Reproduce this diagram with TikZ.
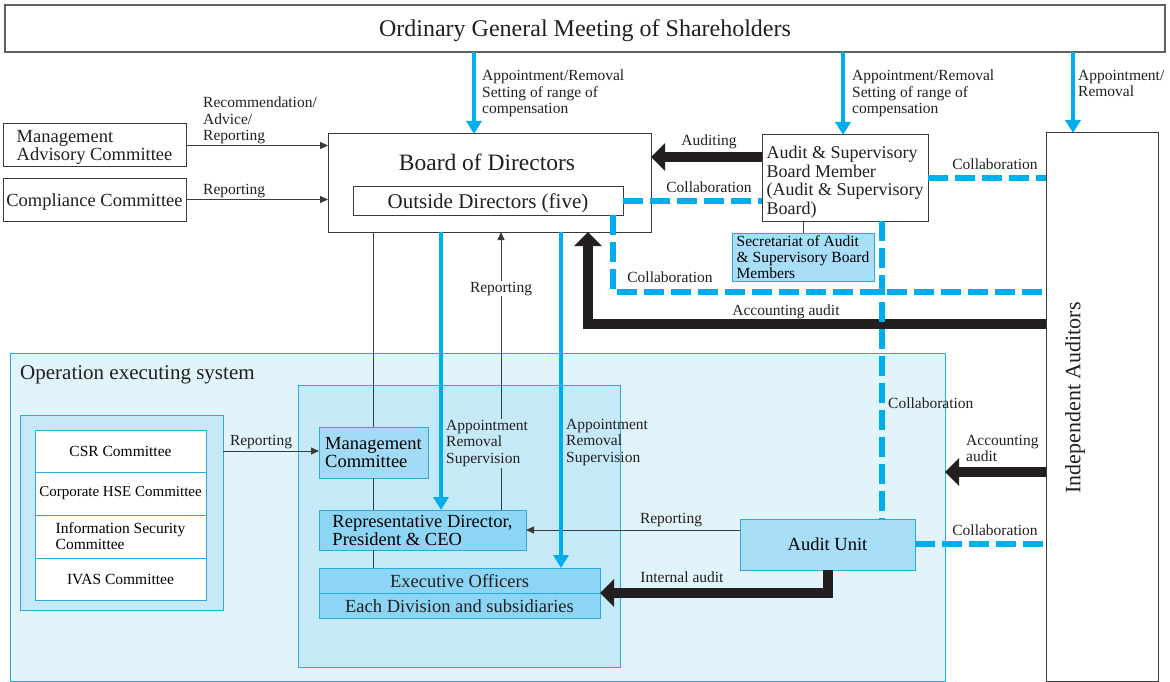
\documentclass[tikz,border=0pt]{standalone}
\usepackage{fontspec}
\setmainfont{Liberation Serif}
\usetikzlibrary{arrows.meta}
\definecolor{cy}{HTML}{00AEEF}
\definecolor{blk}{HTML}{231F20}
\definecolor{bord}{HTML}{3A3A3A}
\definecolor{opbg}{HTML}{E1F3FB}
\definecolor{inbg}{HTML}{C6E9F8}
\definecolor{mcbg}{HTML}{A2DBF5}
\definecolor{rdbg}{HTML}{8DD5F4}
\definecolor{aubg}{HTML}{A8DEF7}
\definecolor{lbord}{HTML}{29ABE2}
\newcommand{\fsz}[2]{\fontsize{#1}{#2}\selectfont}
\tikzset{
 box/.style={draw=bord, line width=1pt, fill=white, anchor=north west, inner sep=0pt, outer sep=0pt, align=center},
 lbox/.style={draw=lbord, line width=0.9pt, anchor=north west, inner sep=0pt, outer sep=0pt, align=center},
 txt/.style={inner sep=0pt, text=blk},
 lbl/.style={font=\fsz{15.5}{16.5}, align=left, inner sep=0pt, text=blk},
 thinarrow/.style={draw=bord, line width=0.8pt, -{Triangle[width=7pt,length=8pt]}},
 thinline/.style={draw=bord, line width=0.8pt},
 bluearrow/.style={draw=cy, line width=4.5pt, -{Triangle[width=15pt,length=13pt]}},
 blkarrow/.style={draw=blk, line width=10.5pt, line join=miter, -{Triangle[width=27pt,length=14pt]}},
 dashline/.style={draw=cy, line width=6.5pt, line join=miter, dash pattern=on 20pt off 7pt},
}
\begin{document}
\begin{tikzpicture}[x=1pt,y=-1pt]
\useasboundingbox (0,0) rectangle (1170,682);
% backgrounds
\node[lbox, fill=opbg, minimum width=935pt, minimum height=328pt] (op) at (10,353) {};
\node[lbox, fill=inbg, minimum width=322pt, minimum height=282pt] (inner) at (298,385) {};
\node[lbox, fill=inbg, minimum width=203pt, minimum height=195pt] (lg) at (20,415) {};
\node[lbl, anchor=base west, font=\fsz{21}{22}] (optitle) at (20,379) {Operation executing system};
% top
\node[box, draw=bord!80, line width=1.4pt, minimum width=1160pt, minimum height=47pt] (top) at (5,5) {};
\node[txt, font=\fsz{24}{26}] (topt) at (585,31) {Ordinary General Meeting of Shareholders};
% left committees
\node[box, minimum width=183pt, minimum height=43pt] (mac) at (3,124) {};
\node[txt, font=\fsz{18.5}{18}, align=left] (mact) at ([yshift=-2pt]mac.center) {Management\\Advisory Committee};
\node[box, minimum width=183pt, minimum height=43pt] (cc) at (3,178) {};
\node[txt, font=\fsz{18.5}{18}] (cct) at ([yshift=-3pt]cc.center) {Compliance Committee};
% board
\node[box, minimum width=323pt, minimum height=98pt] (bod) at (328,134) {};
\node[txt, font=\fsz{23.5}{25}] (bodt) at (487,162) {Board of Directors};
\node[box, minimum width=270pt, minimum height=29pt] (od) at (353,186) {};
\node[txt, font=\fsz{21}{22}] (odt) at ([yshift=-3pt]od.center) {Outside Directors (five)};
% audit board
\node[box, minimum width=166pt, minimum height=86pt] (asb) at (762,135) {};
\node[txt, font=\fsz{18}{18.6}, align=left] (asbt) at ([yshift=-4pt]asb.center) {Audit \& Supervisory\\Board Member\\(Audit \& Supervisory\\Board)};
\node[lbox, fill=aubg, minimum width=142pt, minimum height=48pt, font=\fsz{15.5}{16}, align=left] (sec) at (732,233) {Secretariat of Audit\\\& Supervisory Board\\Members};
% independent auditors
\node[box, minimum width=112pt, minimum height=548pt] (ia) at (1046,133) {};
\node[txt, rotate=90, font=\fsz{22}{24}] (iat) at (1075,398) {Independent Auditors};
% committees group
\node[lbox, fill=white, minimum width=171pt, minimum height=42pt, font=\fsz{15.5}{16}] (csr) at (35,430) {CSR Committee};
\node[lbox, fill=white, minimum width=171pt, minimum height=43pt, font=\fsz{15}{16}] (hse) at (35,472) {Corporate HSE Committee};
\node[lbox, fill=white, minimum width=171pt, minimum height=43pt, font=\fsz{15.5}{16}, align=left] (isc) at (35,515) {Information Security\\Committee};
\node[lbox, fill=white, minimum width=171pt, minimum height=42pt, font=\fsz{15.5}{16}] (ivas) at (35,558) {IVAS Committee};
% executing boxes
\node[lbox, fill=mcbg, minimum width=109pt, minimum height=51pt, font=\fsz{18.5}{18}, align=left] (mc) at (319,427) {Management\\Committee};
\node[lbox, fill=rdbg, minimum width=207pt, minimum height=40pt, font=\fsz{18.5}{18}, align=left] (rd) at (319,510) {Representative Director,\\President \& CEO};
\node[lbox, fill=rdbg, minimum width=281pt, minimum height=25pt] (eo) at (319,568) {};
\node[txt, font=\fsz{18.5}{18}] (eot) at ([yshift=-1pt]eo.center) {Executive Officers};
\node[lbox, fill=rdbg, minimum width=281pt, minimum height=25pt] (ed) at (319,593) {};
\node[txt, font=\fsz{18.5}{18}] (edt) at ([yshift=-1pt]ed.center) {Each Division and subsidiaries};
\node[lbox, fill=aubg, minimum width=175pt, minimum height=51pt, font=\fsz{18.5}{18}] (au) at (740,519) {Audit Unit};
% helper coordinates
\coordinate (x474) at (474,0);
\coordinate (x843) at (843,0);
\coordinate (x1073) at (1073,0);
\coordinate (x373) at (373,0);
\coordinate (x441) at (441,0);
\coordinate (x501) at (501,0);
\coordinate (x561) at (561,0);
\coordinate (x588) at (588,0);
\coordinate (x613) at (613,0);
\coordinate (x803) at (803,0);
\coordinate (x828) at (828,0);
\coordinate (x882) at (882,0);
\coordinate (y157) at (0,157);
\coordinate (y201) at (0,201);
\coordinate (y178) at (0,178);
\coordinate (y292) at (0,292);
\coordinate (y324) at (0,324);
\coordinate (y472) at (0,472);
\coordinate (y530) at (0,530);
\coordinate (y544) at (0,544);
\coordinate (y451) at (0,451);
\coordinate (c1) at (613,292);
\coordinate (c2) at (588,324);
\coordinate (c3) at (828,593);
% thin connectors
\draw[thinarrow] (mac.east) -- (bod.west |- mac.east);
\draw[thinarrow] (cc.east) -- (bod.west |- cc.east);
\draw[thinline] (bod.south -| x373) -- (mc.north -| x373);
\draw[thinline] (mc.south -| x373) -- (rd.north -| x373);
\draw[thinline] (rd.south -| x373) -- (eo.north -| x373);
\draw[thinarrow] (rd.north -| x501) -- (bod.south -| x501);
\draw[thinline] (asb.south -| x803) -- (sec.north -| x803);
\draw[thinarrow] (lg.east |- y451) -- (mc.west |- y451);
\draw[thinarrow] (au.west |- y530) -- (rd.east |- y530);
% blue arrows
\draw[bluearrow] (top.south -| x474) -- (bod.north -| x474);
\draw[bluearrow] (top.south -| x843) -- (asb.north -| x843);
\draw[bluearrow] (top.south -| x1073) -- (ia.north -| x1073);
\draw[bluearrow] (bod.south -| x441) -- (rd.north -| x441);
\draw[bluearrow] (bod.south -| x561) -- (eo.north -| x561);
% black arrows
\draw[blkarrow] (asb.west |- y157) -- (bod.east |- y157);
\draw[blkarrow] (ia.west |- y324) -- (c2) -- (bod.south -| x588);
\draw[blkarrow] (ia.west |- y472) -- (op.east |- y472);
\draw[blkarrow] (au.south -| x828) -- (c3) -- (ed.east |- c3);
% dashed
\draw[dashline] (od.east |- y201) -- (asb.west |- y201);
\draw[dashline] (od.south -| x613) -- (c1) -- (ia.west |- y292);
\draw[dashline] (asb.east |- y178) -- (ia.west |- y178);
\draw[dashline] (asb.south -| x882) -- (au.north -| x882);
\draw[dashline] (au.east |- y544) -- (ia.west |- y544);
% labels
\node[lbl, anchor=north west] (l1) at (482,70) {Appointment/Removal\\Setting of range of\\compensation};
\node[lbl, anchor=north west] (l2) at (852,70) {Appointment/Removal\\Setting of range of\\compensation};
\node[lbl, anchor=north west] (l3) at (1078,70) {Appointment/\\Removal};
\node[lbl, anchor=north west] (l4) at (203,97) {Recommendation/\\Advice/\\Reporting};
\node[lbl, anchor=base west] (l5) at (203,194) {Reporting};
\node[lbl, anchor=base] (l6) at (709,146) {Auditing};
\node[lbl, anchor=base] (l7) at (709,192) {Collaboration};
\node[lbl, anchor=base] (l8) at (995,169) {Collaboration};
\node[lbl, anchor=base] (l9) at (670,282) {Collaboration};
\node[lbl, anchor=base] (l10) at (786,315) {Accounting audit};
\node[lbl, anchor=base west] (l11) at (888,408) {Collaboration};
\node[lbl, anchor=base, fill=white, inner sep=1pt] (l12) at (501,292) {Reporting};
\node[lbl, anchor=north west, fill=inbg, inner ysep=1pt, inner xsep=0pt] (l13) at (446,419) {Appointment\\Removal\\Supervision};
\node[lbl, anchor=north west] (l14) at (566,419) {Appointment\\Removal\\Supervision};
\node[lbl, anchor=base] (l15) at (261,445) {Reporting};
\node[lbl, anchor=north west] (l16) at (966,435) {Accounting\\audit};
\node[lbl, anchor=base] (l17) at (671,523) {Reporting};
\node[lbl, anchor=base] (l18) at (682,582) {Internal audit};
\node[lbl, anchor=base] (l19) at (995,535) {Collaboration};
\end{tikzpicture}
\end{document}
